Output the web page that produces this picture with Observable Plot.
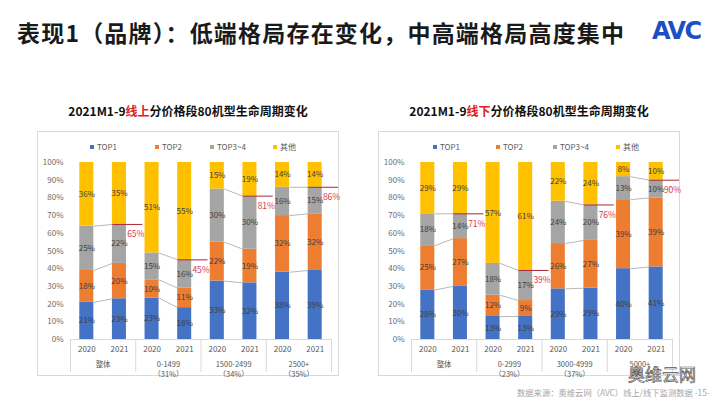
<!DOCTYPE html>
<html>
<head>
<meta charset="utf-8">
<script src="https://cdn.jsdelivr.net/npm/d3@7"></script>
<script src="https://cdn.jsdelivr.net/npm/@observablehq/plot@0.6"></script>
<style>
  html, body { margin: 0; padding: 0; background: #fff; }
  #page { position: relative; width: 720px; height: 405px; overflow: hidden; font-family: "Noto Sans CJK SC", "Noto Sans", sans-serif; }
  .title { position: absolute; left: 17px; top: 18px; font-size: 23px; font-weight: 700; color: #1a1a1a; line-height: 28px; white-space: nowrap; letter-spacing: 1.2px; }
  .logo { position: absolute; left: 652px; top: 17px; font-family: "DejaVu Sans", sans-serif; font-size: 24px; font-weight: 700; color: #1d4fc4; letter-spacing: -1.5px; }
  .ctitle { position: absolute; top: 102px; width: 300px; text-align: center; font-size: 12px; font-weight: 700; color: #111; white-space: nowrap; }
  .ctitle .hl { color: #e02020; }
  .box { position: absolute; top: 132px; width: 300px; height: 243px; outline: 1px solid #d9d9d9; }
  .box svg { position: absolute; left: 0; top: 0; }
  .legend { position: absolute; top: 10px; font-size: 8px; color: #595959; white-space: nowrap; line-height: 10px; }
  .legend i { display: inline-block; width: 4px; height: 4px; margin-right: 3px; vertical-align: 1px; }
  .footer { position: absolute; left: 517px; top: 386px; font-size: 8.3px; color: #a6a6a6; white-space: nowrap; }
  .wm { position: absolute; left: 628px; top: 361px; font-size: 17px; color: #fafafa; -webkit-text-stroke: 0.7px #555; white-space: nowrap; }
</style>
</head>
<body>
<div id="page">
  <div class="title">表现1（品牌）：低端格局存在变化，中高端格局高度集中</div>
  <div class="logo">AVC</div>
  <div class="ctitle" style="left:38px">2021M1-9<span class="hl">线上</span>分价格段80机型生命周期变化</div>
  <div class="ctitle" style="left:379px">2021M1-9<span class="hl">线下</span>分价格段80机型生命周期变化</div>
  <div class="box" id="boxL" style="left:38px"></div>
  <div class="box" id="boxR" style="left:379px"></div>
  <div class="footer">数据来源：奥维云网（AVC）线上/线下监测数据 -15-</div>
  <div class="wm">奥维云网</div>
</div>
<script>
// ---- data ----
const series = ["TOP1", "TOP2", "TOP3~4", "其他"];
const colors = ["#4472C4", "#ED7D31", "#A5A5A5", "#FFC000"];
const years = ["2020", "2021"];

const groupsOnline = ["整体", "0-1499\n（31%）", "1500-2499\n（34%）", "2500+\n（35%）"];
const top1Online  = [21, 23, 23.4, 18, 33, 32, 38, 39];
const top2Online  = [18, 20, 10.3, 11, 22, 19, 32, 32];
const top34Online = [25, 22, 15.2, 16, 30, 30, 16, 15];
const otherOnline = [36, 35, 51.1, 55, 15, 19, 14, 14];

const groupsOffline = ["整体", "0-2999\n（23%）", "3000-4999\n（37%）", "5000+\n"];
const top1Offline  = [28, 30, 13, 13, 28.6, 29, 40, 41];
const top2Offline  = [25, 27, 12, 9, 25.6, 27, 39, 39];
const top34Offline = [18, 14, 18, 17, 23.9, 20, 13, 10];
const otherOffline = [29, 29, 57, 61, 21.9, 24, 8, 10];

// ---- chart builder ----
function build(groups, s1, s2, s3, s4) {
  const vals = [s1, s2, s3, s4];
  const n = s1.length;
  const hw = 0.215;
  const segs = [];
  const cums = [];
  for (let i = 0; i < n; i++) {
    let c = 0;
    const cc = [];
    for (let s = 0; s < 4; s++) {
      const v = vals[s][i] / 100;
      segs.push({i, series: series[s], y1: c, y2: c + v, label: Math.round(vals[s][i]) + "%"});
      c += v;
      cc.push(c);
    }
    cums.push(cc);
  }
  const links = [];
  const reds = [];
  for (let g = 0; g < groups.length; g++) {
    const a = 2 * g, b = 2 * g + 1;
    for (let s = 0; s < 3; s++) {
      links.push({x1: a + hw, x2: b - hw, y1: cums[a][s], y2: cums[b][s]});
    }
    const c3 = cums[b][2];
    reds.push({x1: b - hw, x2: b + 0.7, y: c3, x: b + 0.5, text: Math.round(c3 * 100) + "%"});
  }
  const cats = d3.range(n).map(i => ({i, year: years[i % 2]}));
  const grp = groups.map((g, k) => ({x: 2 * k + 0.5, text: g}));
  const seps = d3.range(groups.length + 1).map(k => 2 * k - 0.5);

  return Plot.plot({
    width: 300,
    height: 243,
    marginTop: 30,
    marginBottom: 36,
    marginLeft: 32,
    marginRight: 7,
    style: {fontFamily: "'Noto Sans CJK SC', sans-serif", fontSize: "8px", background: "transparent", overflow: "visible"},
    x: {domain: [-0.5, n - 0.5], axis: null},
    y: {domain: [0, 1], axis: null},
    color: {domain: series, range: colors},
    marks: [
      Plot.axisY({ticks: d3.range(0, 1.001, 0.1), tickFormat: d3.format(".0%"), tickSize: 0, tickPadding: 7, fill: "#6b6b6b", fontSize: 8}),
      Plot.ruleY([0], {stroke: "#d9d9d9"}),
      Plot.axisX({ticks: seps, tickSize: 33, tickFormat: () => "", stroke: "#d9d9d9"}),
      Plot.rect(segs, {x1: d => d.i - hw, x2: d => d.i + hw, y1: "y1", y2: "y2", fill: "series"}),
      Plot.link(links, {x1: "x1", x2: "x2", y1: "y1", y2: "y2", stroke: "#a6a6a6", strokeWidth: 0.8}),
      Plot.link(reds, {x1: "x1", x2: "x2", y1: "y", y2: "y", stroke: "#a8283a", strokeWidth: 1}),
      Plot.text(segs, {x: "i", y: d => (d.y1 + d.y2) / 2, text: "label", fill: "#3f3f3f", fontSize: 8}),
      Plot.text(reds, {x: "x", y: "y", dy: 10, text: "text", fill: "#d23a50", fontSize: 8.5}),
      Plot.text(cats, {x: "i", y: 0, dy: 10, text: "year", fill: "#595959", fontSize: 8}),
      Plot.text(grp, {x: "x", y: 0, dy: 21, text: "text", fill: "#595959", fontSize: 7.5, lineHeight: 1.3, lineAnchor: "top"})
    ]
  });
}

function legend(el, offsets) {
  series.forEach((s, k) => {
    const d = document.createElement("div");
    d.className = "legend";
    d.style.left = offsets[k] + "px";
    d.innerHTML = `<i style="background:${colors[k]}"></i>${s}`;
    el.appendChild(d);
  });
}

const boxL = document.getElementById("boxL");
const boxR = document.getElementById("boxR");
boxL.appendChild(build(groupsOnline, top1Online, top2Online, top34Online, otherOnline));
boxR.appendChild(build(groupsOffline, top1Offline, top2Offline, top34Offline, otherOffline));
legend(boxL, [52, 117, 172, 235]);
legend(boxR, [54, 117, 174, 237]);
</script>
</body>
</html>
